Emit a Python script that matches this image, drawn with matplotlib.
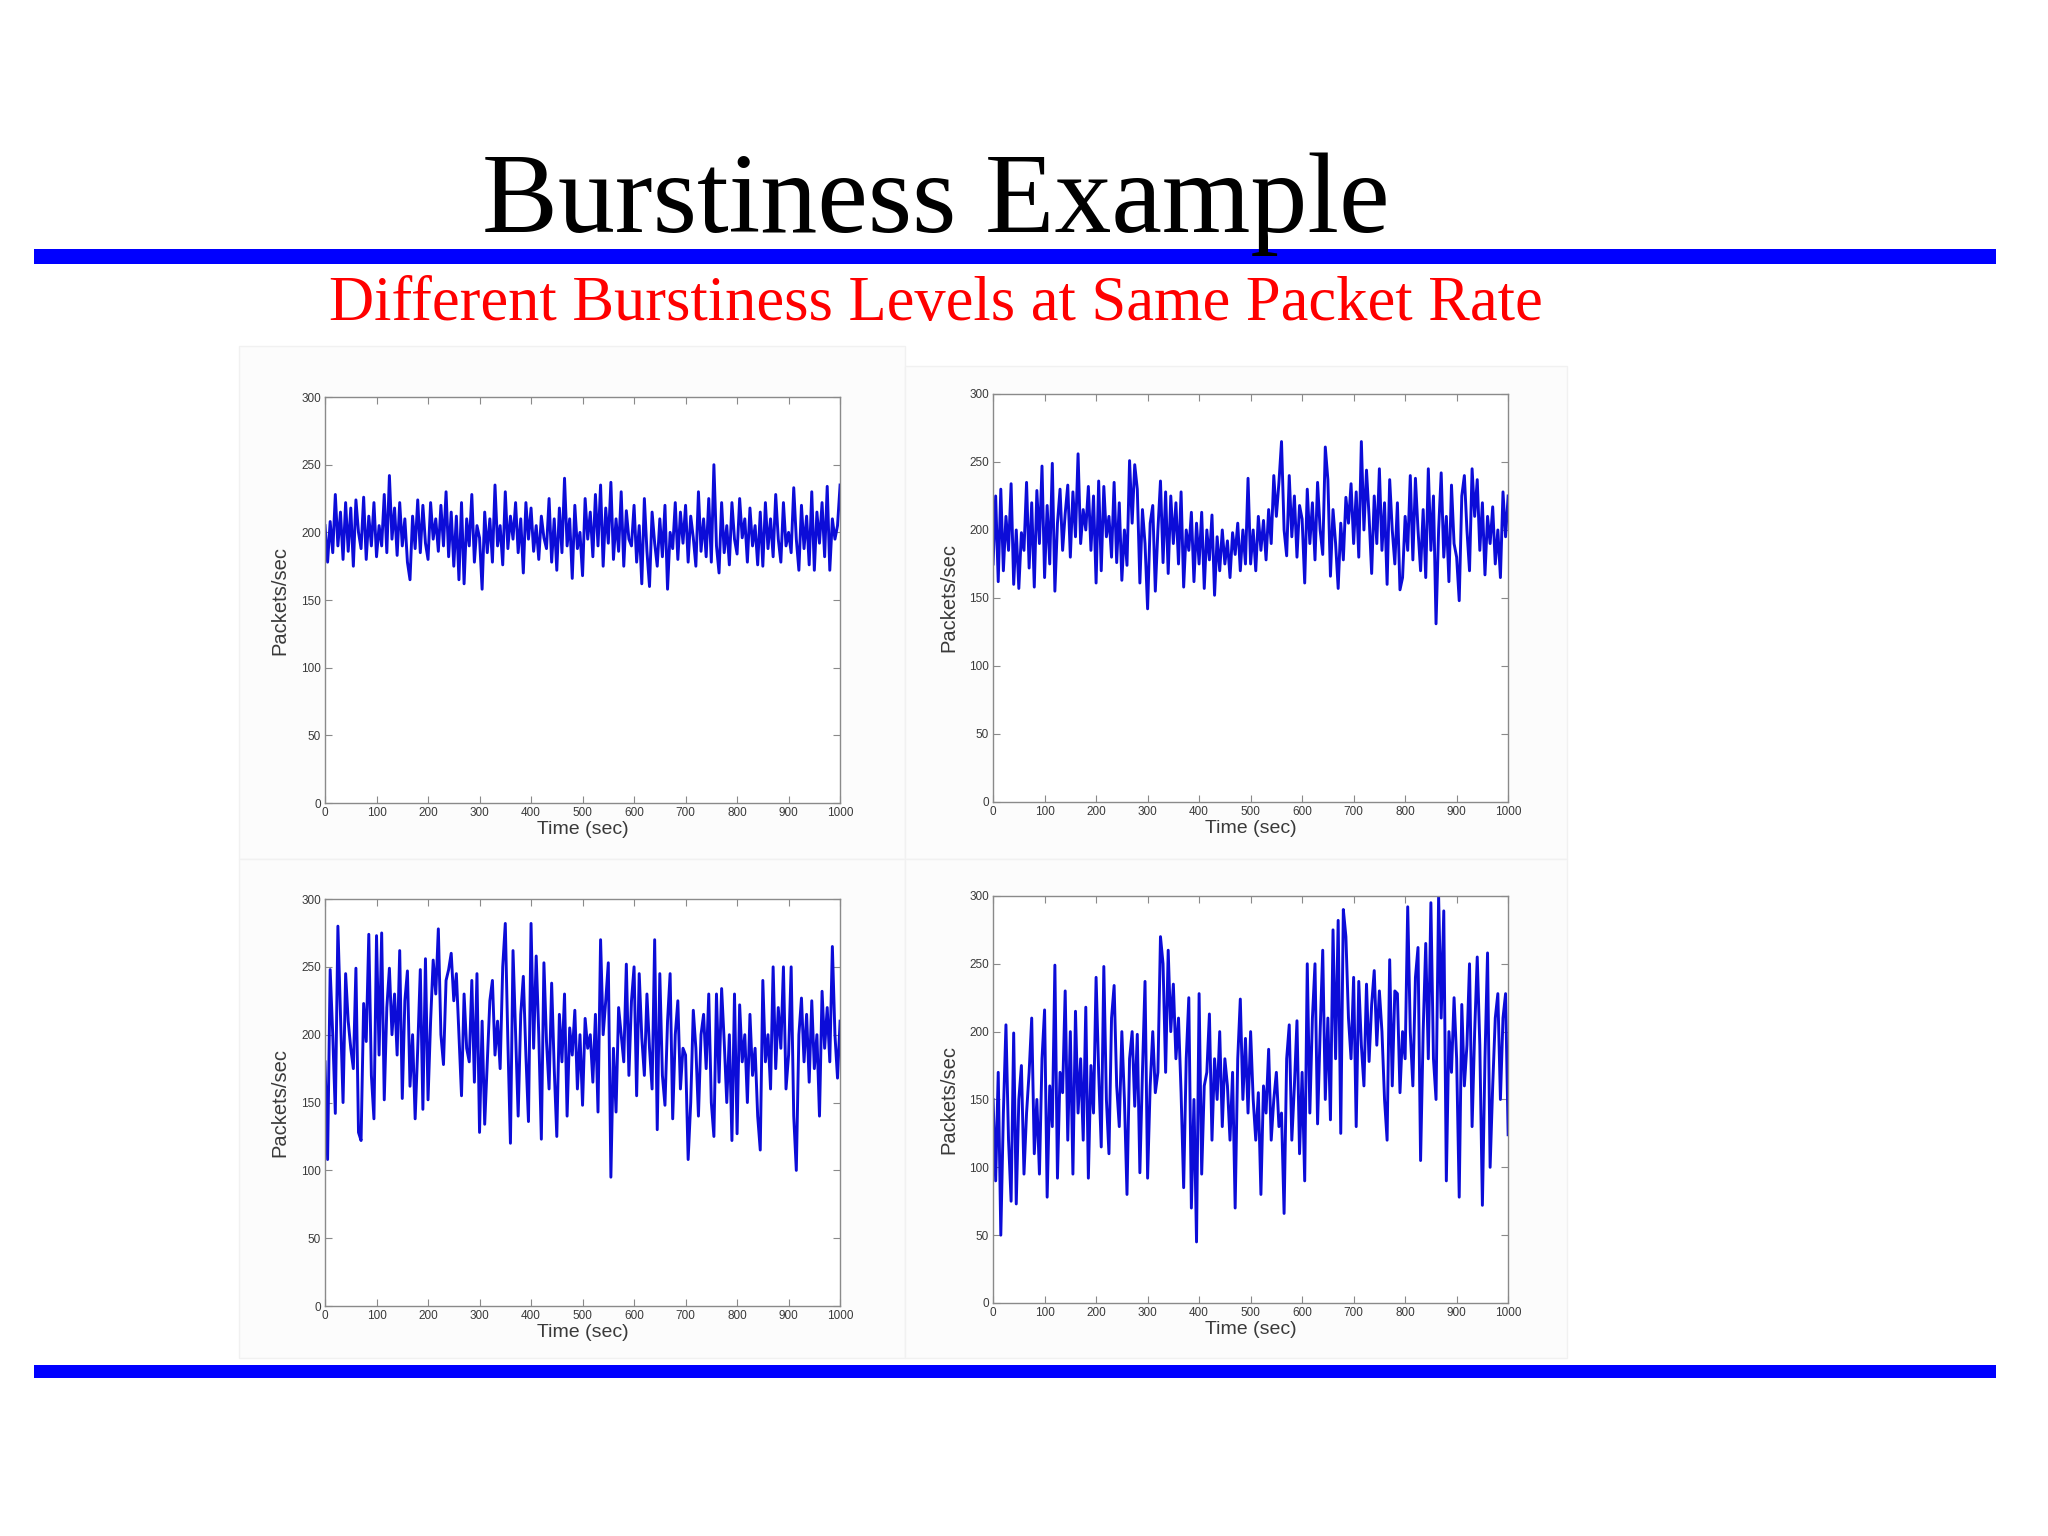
import numpy as np
import matplotlib
matplotlib.use("Agg")
import matplotlib.pyplot as plt
import matplotlib.patches as mpatches

# ── Data (packets/sec, one value every 5 s) ──────────────────────────────────
STEP = 5

low_burst = [
    205, 178, 208, 185, 228, 190, 215, 180, 222, 186,
    218, 175, 224, 200, 188, 226, 180, 212, 190, 222,
    182, 205, 190, 228, 185, 242, 195, 218, 183, 222,
    190, 210, 178, 165, 212, 188, 224, 185, 220, 192,
    180, 222, 195, 210, 186, 220, 190, 230, 182, 215,
    175, 212, 165, 222, 162, 210, 190, 228, 178, 205,
    196, 158, 215, 185, 210, 178, 235, 190, 205, 176,
    230, 188, 212, 195, 222, 185, 210, 170, 222, 195,
    218, 186, 205, 180, 212, 196, 188, 225, 178, 210,
    172, 218, 185, 240, 190, 210, 166, 220, 188, 200,
    168, 225, 195, 215, 182, 228, 190, 235, 175, 218,
    192, 237, 180, 210, 186, 230, 175, 216, 195, 190,
    220, 178, 205, 162, 225, 186, 160, 215, 192, 175,
    210, 182, 220, 158, 200, 188, 222, 180, 215, 192,
    220, 178, 212, 196, 175, 230, 186, 210, 182, 225,
    178, 250, 190, 170, 222, 185, 205, 176, 222, 195,
    184, 225, 196, 210, 178, 218, 190, 205, 176, 215,
    175, 222, 188, 210, 182, 228, 195, 178, 222, 190,
    200, 185, 233, 195, 172, 220, 188, 212, 176, 230,
    172, 215, 192, 222, 182, 234, 172, 210, 195, 205,
    235,
]

mid_burst = [
    175, 225, 162, 230, 170, 210, 185, 234, 160, 200,
    157, 198, 185, 235, 172, 220, 158, 229, 190, 247,
    165, 218, 175, 249, 155, 205, 230, 185, 212, 233,
    180, 228, 195, 256, 190, 215, 200, 232, 185, 225,
    161, 236, 170, 232, 195, 210, 180, 235, 176, 220,
    163, 200, 174, 251, 205, 248, 230, 161, 215, 190,
    142, 205, 218, 155, 200, 236, 176, 228, 168, 225,
    190, 220, 175, 228, 158, 200, 185, 213, 162, 205,
    175, 213, 157, 200, 178, 211, 152, 195, 170, 200,
    175, 192, 165, 198, 182, 205, 170, 200, 175, 238,
    175, 200, 170, 210, 185, 207, 178, 215, 190, 240,
    210, 235, 265, 200, 181, 240, 195, 225, 180, 218,
    208, 161, 230, 190, 220, 178, 235, 200, 182, 261,
    237, 166, 215, 190, 157, 205, 178, 224, 205, 234,
    190, 228, 180, 265, 200, 244, 210, 168, 225, 190,
    245, 185, 220, 160, 237, 200, 175, 220, 156, 165,
    210, 185, 240, 178, 238, 200, 170, 215, 165, 245,
    185, 225, 131, 200, 242, 180, 210, 162, 233, 190,
    180, 148, 225, 240, 200, 170, 245, 210, 237, 185,
    220, 167, 210, 190, 217, 175, 200, 165, 228, 195,
    225,
]

high_burst = [
    180, 108, 248, 200, 142, 280, 215, 150, 245, 210,
    190, 175, 249, 128, 122, 223, 195, 274, 170, 138,
    273, 185, 275, 152, 220, 249, 200, 230, 185, 262,
    153, 225, 247, 162, 200, 138, 190, 248, 145, 256,
    152, 210, 255, 230, 278, 200, 178, 240, 248, 260,
    225, 245, 200, 155, 230, 190, 180, 240, 165, 245,
    128, 210, 134, 180, 225, 240, 185, 210, 175, 250,
    282, 195, 120, 262, 200, 140, 215, 243, 185, 136,
    282, 190, 258, 200, 123, 253, 195, 160, 238, 175,
    125, 215, 180, 230, 140, 205, 185, 218, 160, 200,
    148, 212, 190, 200, 165, 215, 143, 270, 200, 225,
    253, 95, 190, 143, 220, 200, 180, 252, 170, 225,
    250, 155, 245, 198, 170, 230, 190, 160, 270, 130,
    245, 170, 148, 210, 245, 138, 200, 225, 160, 190,
    185, 108, 150, 218, 190, 140, 200, 215, 175, 230,
    150, 125, 230, 165, 234, 195, 150, 200, 122, 230,
    127, 222, 180, 200, 150, 215, 170, 190, 140, 115,
    240, 180, 200, 160, 250, 175, 220, 190, 250, 160,
    185, 250, 140, 100, 200, 227, 180, 215, 165, 225,
    175, 200, 140, 232, 190, 220, 180, 265, 200, 168,
    210,
]

very_high_burst = [
    150, 90, 170, 50, 140, 205, 120, 75, 199, 73,
    150, 175, 95, 140, 170, 210, 110, 150, 95, 180,
    216, 78, 160, 130, 249, 92, 170, 155, 230, 120,
    200, 95, 215, 140, 180, 120, 218, 92, 175, 140,
    240, 170, 115, 248, 150, 110, 210, 234, 160, 130,
    200, 150, 80, 180, 200, 145, 198, 96, 170, 237,
    92, 160, 200, 155, 170, 270, 250, 170, 260, 200,
    235, 180, 210, 155, 85, 180, 225, 70, 150, 45,
    228, 95, 160, 170, 213, 120, 180, 150, 200, 130,
    180, 160, 120, 170, 70, 180, 224, 150, 195, 140,
    200, 150, 120, 155, 80, 160, 140, 187, 120, 150,
    170, 130, 140, 66, 180, 205, 120, 160, 208, 110,
    170, 90, 250, 140, 210, 250, 132, 200, 260, 150,
    210, 135, 275, 180, 282, 125, 290, 270, 210, 180,
    240, 130, 237, 190, 160, 235, 178, 220, 245, 190,
    230, 200, 150, 120, 253, 160, 230, 228, 155, 200,
    180, 292, 200, 160, 240, 262, 105, 200, 265, 180,
    295, 180, 150, 300, 210, 289, 90, 200, 170, 225,
    180, 78, 220, 160, 190, 250, 130, 200, 255, 190,
    72, 180, 258, 100, 160, 210, 228, 150, 210, 228,
    124,
]

X_TICKS = list(range(0, 1001, 100))
Y_TICKS = list(range(0, 301, 50))

TITLE = "Burstiness Example"
SUBTITLE = "Different Burstiness Levels at Same Packet Rate"

# ── Layout (figure fractions) ────────────────────────────────────────────────
PANELS = [
    (low_burst,       [0.1587, 0.4772, 0.2515, 0.2643]),
    (mid_burst,       [0.4849, 0.4779, 0.2515, 0.2656]),
    (high_burst,      [0.1587, 0.1497, 0.2515, 0.2650]),
    (very_high_burst, [0.4849, 0.1517, 0.2515, 0.2650]),
]

LINE_BLUE = "#0c0cd8"
AXIS_GRAY = "#8a8a8a"
TEXT_GRAY = "#3a3a3a"

fig = plt.figure(figsize=(20.48, 15.36), dpi=100)
fig.patch.set_facecolor("white")

# faint backdrop of the pasted panel images (pixel boxes, 1568-wide view)
bg_rects = [
    (183, 265, 693, 658),
    (693, 280, 1200, 658),
    (183, 658, 693, 1040),
    (693, 658, 1200, 1040),
]
SCALE = 2048 / 1568
for (l, t, r, b) in bg_rects:
    fig.add_artist(mpatches.Rectangle(
        (l * SCALE / 2048, 1 - b * SCALE / 1536),
        (r - l) * SCALE / 2048, (b - t) * SCALE / 1536,
        transform=fig.transFigure, facecolor="#fcfcfc",
        edgecolor="#f1f1f1", linewidth=1.0, zorder=0))

# ── Title, subtitle and the two blue rules ───────────────────────────────────
fig.text(0.457, 0.849, TITLE, ha="center", va="baseline",
         fontsize=82, family="Liberation Serif", color="black")
fig.text(0.457, 0.7917, SUBTITLE, ha="center", va="baseline",
         fontsize=45, family="Liberation Serif", color="#ff0000")

for y0, hgt in [(0.8281, 0.0098), (0.1029, 0.0085)]:
    fig.add_artist(mpatches.Rectangle((0.0166, y0), 0.958, hgt,
                                      transform=fig.transFigure,
                                      facecolor="#0000ff", edgecolor="none",
                                      zorder=2))

# ── The four time series ─────────────────────────────────────────────────────
for values, box in PANELS:
    ax = fig.add_axes(box)
    t = np.arange(len(values)) * STEP
    ax.plot(t, values, color=LINE_BLUE, linewidth=2.1)

    ax.set_xlim(0, 1000)
    ax.set_ylim(0, 300)
    ax.set_xticks(X_TICKS)
    ax.set_yticks(Y_TICKS)
    ax.tick_params(direction="in", top=True, right=True, length=5,
                   width=0.8, color=AXIS_GRAY, labelsize=8.5,
                   labelcolor=TEXT_GRAY, pad=3)
    for lab in ax.get_xticklabels() + ax.get_yticklabels():
        lab.set_family("Liberation Sans")
    for sp in ax.spines.values():
        sp.set_color(AXIS_GRAY)
        sp.set_linewidth(1.0)

    ax.set_xlabel("Time (sec)", fontsize=14, family="Liberation Sans",
                  color=TEXT_GRAY, labelpad=1)
    ax.set_ylabel("Packets/sec", fontsize=14.5, family="Liberation Sans",
                  color=TEXT_GRAY, labelpad=8)

fig.savefig("out.png", dpi=100, facecolor="white")
